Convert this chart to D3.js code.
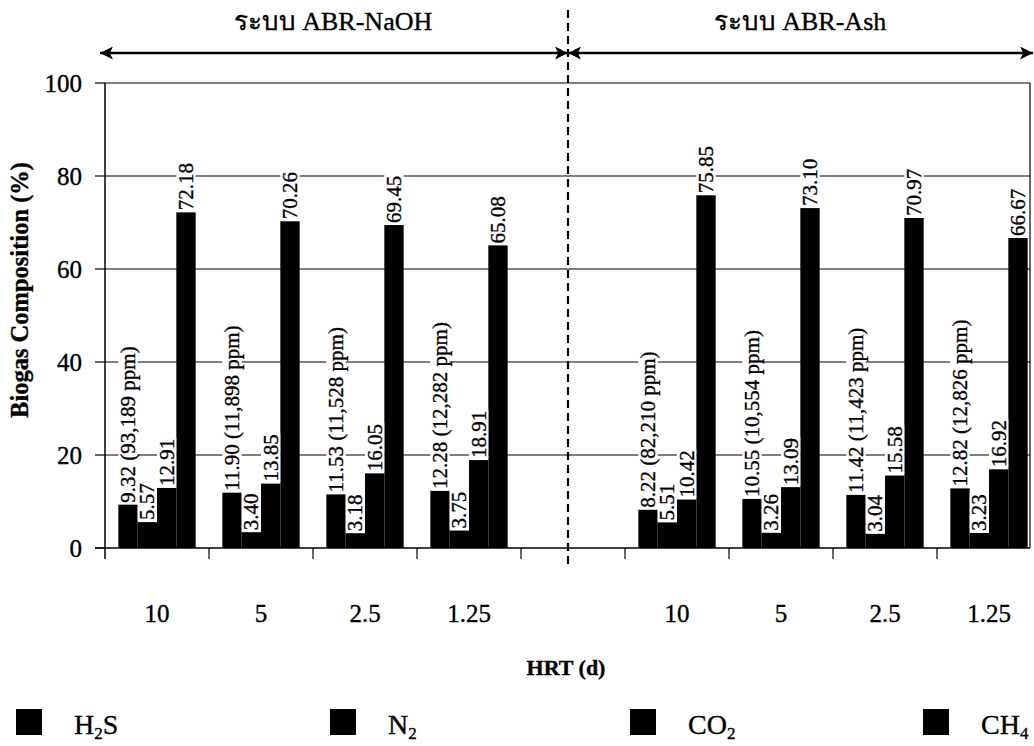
<!DOCTYPE html>
<html>
<head>
<meta charset="utf-8">
<script src="https://cdn.jsdelivr.net/npm/d3@7"></script>
<style>
  body { margin: 0; background: #fff; }
  svg { display: block; }
  text { font-family: "Liberation Serif", "Times New Roman", "DejaVu Serif", serif; fill: #000; stroke: #000; stroke-width: 0.35px; }
</style>
</head>
<body>
<svg id="chart" width="1034" height="746"></svg>
<script>
// Biogas composition (%) per HRT for the two ABR systems
const systems = ["ระบบ ABR-NaOH", "ระบบ ABR-Ash"];
const hrt = ["10", "5", "2.5", "1.25"];
const gases = ["H2S", "N2", "CO2", "CH4"];

// values in HRT order: NaOH 10, 5, 2.5, 1.25, then Ash 10, 5, 2.5, 1.25
const h2s    = [9.32, 11.90, 11.53, 12.28, 8.22, 10.55, 11.42, 12.82];
const h2sPpm = ["93,189", "11,898", "11,528", "12,282", "82,210", "10,554", "11,423", "12,826"];
const n2     = [5.57, 3.40, 3.18, 3.75, 5.51, 3.26, 3.04, 3.23];
const co2    = [12.91, 13.85, 16.05, 18.91, 10.42, 13.09, 15.58, 16.92];
const ch4    = [72.18, 70.26, 69.45, 65.08, 75.85, 73.10, 70.97, 66.67];
const yTicks = [0, 20, 40, 60, 80, 100];

const svg = d3.select("#chart");

// category slots: four HRTs per system with an empty slot between them
const slots = ["n0", "n1", "n2", "n3", "gap", "a0", "a1", "a2", "a3"];
const slotLabel = s => s === "gap" ? "" : hrt[+s[1]];

const x = d3.scaleBand().domain(slots).range([105, 1041]).padding(0);
const xSub = d3.scaleBand().domain(gases).range([0, x.bandwidth()]).paddingInner(0).paddingOuter(0.69);
const y = d3.scaleLinear().domain([0, 100]).range([548, 83]);

const plotLeft = 105, plotRight = 1030;

// gridlines
svg.append("g").selectAll("line").data(yTicks.filter(t => t > 0)).join("line")
  .attr("x1", plotLeft).attr("x2", plotRight)
  .attr("y1", d => y(d)).attr("y2", d => y(d))
  .attr("stroke", "#000").attr("stroke-width", 1.2);

// right border of the plot area
svg.append("line").attr("x1", plotRight).attr("x2", plotRight)
  .attr("y1", y(100)).attr("y2", y(0)).attr("stroke", "#000").attr("stroke-width", 1.2);

// rows of bars
const rows = [];
slots.forEach(s => {
  if (s === "gap") return;
  const i = (s[0] === "n" ? 0 : 4) + (+s[1]);
  rows.push({ slot: s, gas: "H2S", v: h2s[i], label: `${h2s[i].toFixed(2)} (${h2sPpm[i]} ppm)` });
  rows.push({ slot: s, gas: "N2",  v: n2[i],  label: n2[i].toFixed(2) });
  rows.push({ slot: s, gas: "CO2", v: co2[i], label: co2[i].toFixed(2) });
  rows.push({ slot: s, gas: "CH4", v: ch4[i], label: ch4[i].toFixed(2) });
});

svg.append("g").selectAll("rect").data(rows).join("rect")
  .attr("x", d => x(d.slot) + xSub(d.gas))
  .attr("width", xSub.bandwidth())
  .attr("y", d => y(d.v))
  .attr("height", d => y(0) - y(d.v))
  .attr("fill", "#000");

// value labels, written upward above each bar
const lab = svg.append("g").selectAll("g").data(rows).join("g")
  .attr("transform", d => `translate(${x(d.slot) + xSub(d.gas) + xSub.bandwidth() / 2},${y(d.v) - 2}) rotate(-90)`);
lab.append("text")
  .attr("x", 0).attr("dy", "0.34em")
  .attr("font-size", 21)
  .text(d => d.label)
  .each(function () {
    const len = this.getComputedTextLength();
    d3.select(this.parentNode).insert("rect", "text")
      .attr("x", -1).attr("y", -xSub.bandwidth() / 2)
      .attr("width", len + 2).attr("height", xSub.bandwidth())
      .attr("fill", "#fff");
  });

// y axis
svg.append("line").attr("x1", plotLeft).attr("x2", plotLeft)
  .attr("y1", y(100)).attr("y2", y(0) + 11).attr("stroke", "#000").attr("stroke-width", 1.5);
svg.append("g").selectAll("line").data(yTicks).join("line")
  .attr("x1", plotLeft - 10).attr("x2", plotLeft)
  .attr("y1", d => y(d)).attr("y2", d => y(d))
  .attr("stroke", "#000").attr("stroke-width", 1.2);
svg.append("g").selectAll("text").data(yTicks).join("text")
  .attr("x", 82).attr("y", d => y(d)).attr("dy", "0.34em")
  .attr("text-anchor", "end").attr("font-size", 25)
  .text(d => d);

// x axis
svg.append("line").attr("x1", plotLeft - 10).attr("x2", plotRight)
  .attr("y1", y(0)).attr("y2", y(0)).attr("stroke", "#000").attr("stroke-width", 1.5);
svg.append("g").selectAll("line").data(slots.slice(1)).join("line")
  .attr("x1", d => x(d)).attr("x2", d => x(d))
  .attr("y1", y(0)).attr("y2", y(0) + 11)
  .attr("stroke", "#000").attr("stroke-width", 1.2);
svg.append("g").selectAll("text").data(slots.filter(s => s !== "gap")).join("text")
  .attr("x", d => x(d) + x.bandwidth() / 2).attr("y", 622)
  .attr("text-anchor", "middle").attr("font-size", 25)
  .text(slotLabel);

// axis titles
svg.append("text").attr("x", 566).attr("y", 675)
  .attr("text-anchor", "middle").attr("font-size", 22).attr("font-weight", "bold")
  .text("HRT (d)");
svg.append("text").attr("transform", "translate(28,290) rotate(-90)")
  .attr("text-anchor", "middle").attr("font-size", 24.5).attr("font-weight", "bold")
  .text("Biogas Composition (%)");

// divider between the two systems
const divX = x("gap") + x.bandwidth() / 2 - 5;
svg.append("line").attr("x1", divX).attr("x2", divX).attr("y1", 10).attr("y2", 566)
  .attr("stroke", "#000").attr("stroke-width", 2.2).attr("stroke-dasharray", "8,5");

// span arrows above the plot
const defs = svg.append("defs");
defs.append("marker").attr("id", "head").attr("viewBox", "0 0 10 10")
  .attr("refX", 10).attr("refY", 5).attr("markerWidth", 6).attr("markerHeight", 5)
  .attr("markerUnits", "strokeWidth").attr("orient", "auto-start-reverse")
  .append("path").attr("d", "M0,0 L10,5 L0,10 L2.5,5 Z").attr("fill", "#000");
const arrowY = 53;
[[100, divX], [divX, 1033]].forEach(([a, b]) => {
  svg.append("line").attr("x1", a).attr("x2", b).attr("y1", arrowY).attr("y2", arrowY)
    .attr("stroke", "#000").attr("stroke-width", 2.6)
    .attr("marker-start", "url(#head)").attr("marker-end", "url(#head)");
});

// system titles
svg.append("g").selectAll("text").data(systems).join("text")
  .attr("x", (d, i) => i === 0 ? 333 : 800).attr("y", 30)
  .attr("text-anchor", "middle").attr("font-size", 26)
  .text(d => d);

// legend
const legend = [
  { x: 16,  base: "H", sub: "2", tail: "S" },
  { x: 330, base: "N", sub: "2", tail: "" },
  { x: 630, base: "CO", sub: "2", tail: "" },
  { x: 923, base: "CH", sub: "4", tail: "" }
];
const lg = svg.append("g").selectAll("g").data(legend).join("g");
lg.append("rect").attr("x", d => d.x).attr("y", 709).attr("width", 26).attr("height", 26).attr("fill", "#000");
const lt = lg.append("text").attr("x", d => d.x + 58).attr("y", 734).attr("font-size", 28);
lt.append("tspan").text(d => d.base);
lt.append("tspan").attr("font-size", 17).attr("dy", 5).text(d => d.sub);
lt.append("tspan").attr("dy", -5).text(d => d.tail);
</script>
</body>
</html>
